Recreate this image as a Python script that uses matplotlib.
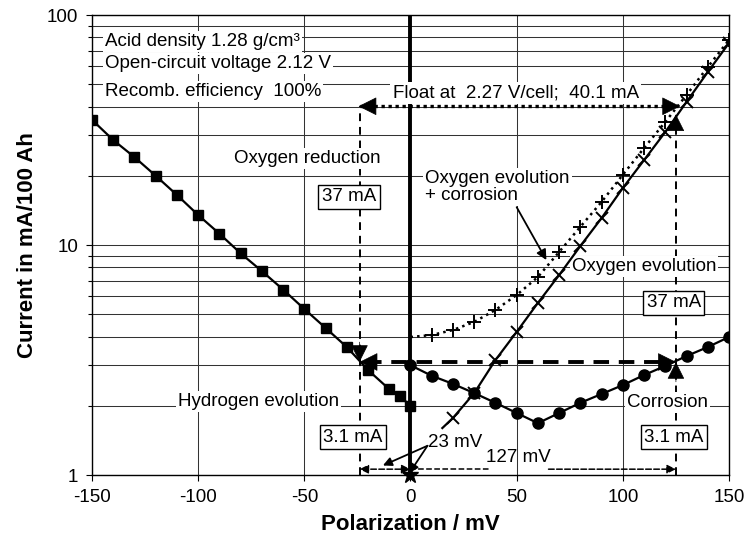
import numpy as np
import matplotlib
matplotlib.use('Agg')
import matplotlib.pyplot as plt
from matplotlib.ticker import FixedLocator, FixedFormatter, NullFormatter

plt.rcParams['font.family'] = ['Liberation Sans', 'DejaVu Sans']
plt.rcParams['font.size'] = 13.5
plt.rcParams['axes.unicode_minus'] = False

# ---- data ----
neg_x = [-150, -140, -130, -120, -110, -100, -90, -80, -70, -60, -50, -40, -30, -20, -10, -5, 0]
neg_i = [35, 28.6, 24.1, 20, 16.5, 13.5, 11.2, 9.2, 7.7, 6.4, 5.27, 4.36, 3.6, 2.86, 2.36, 2.2, 2.0]

corr_x = [0, 10, 20, 30, 40, 50, 60, 70, 80, 90, 100, 110, 120, 130, 140, 150]
corr_i = [3.0, 2.7, 2.49, 2.27, 2.06, 1.86, 1.68, 1.86, 2.06, 2.25, 2.46, 2.72, 2.98, 3.29, 3.6, 3.98]

oxy_x = [15, 20, 30, 40, 50, 60, 70, 80, 90, 100, 110, 120, 130, 140, 150]
oxy_i = [1.6, 1.77, 2.27, 3.16, 4.19, 5.6, 7.4, 9.9, 13.1, 17.7, 23.4, 31, 41.9, 56.5, 75.5]

oxc_x = [0, 10, 20, 30, 40, 50, 60, 70, 80, 90, 100, 110, 120, 130, 140, 150]
oxc_i = [3.98, 4.06, 4.27, 4.63, 5.22, 6.06, 7.26, 9.33, 12, 15.4, 20.2, 26.4, 34.3, 44.9, 59.4, 77.9]

x_ticks = [-150, -100, -50, 0, 50, 100, 150]
y_ticks = [1, 10, 100]
y_tick_labels = ['1', '10', '100']

float_i = 40.1
cross_i = 3.1
top_i = 37
left_mv = -24
right_mv = 125

# ---- figure ----
fig = plt.figure(figsize=(7.47, 5.45), dpi=100)
ax = fig.add_axes([92 / 747, 1 - 475 / 545, 637 / 747, 460 / 545])
ax.set_yscale('log')
ax.set_xlim(-150, 150)
ax.set_ylim(1, 100)

ax.set_xticks(x_ticks)
ax.yaxis.set_major_locator(FixedLocator(y_ticks))
ax.yaxis.set_major_formatter(FixedFormatter(y_tick_labels))
ax.yaxis.set_minor_formatter(NullFormatter())
ax.tick_params(which='both', direction='out', length=4, width=0.8, labelsize=13.5, pad=6)
ax.tick_params(which='minor', length=3)
ax.set_axisbelow(True)
ax.grid(True, which='both', color='0.2', lw=0.75)
for s in ax.spines.values():
    s.set_linewidth(1.0)

ax.set_xlabel('Polarization / mV', fontsize=16, fontweight='bold', labelpad=6)
ax.set_ylabel('Current in mA/100 Ah', fontsize=16, fontweight='bold', labelpad=6)

# thick zero line
ax.plot([0, 0], [1, 100], color='k', lw=2.8, zorder=1.5)

# ---- curves ----
ax.plot(neg_x, neg_i, color='k', lw=1.6, marker='s', ms=6.5, zorder=4)
ax.plot(corr_x, corr_i, color='k', lw=1.6, marker='o', ms=8, zorder=4)
ax.plot(oxy_x, oxy_i, color='k', lw=1.6, marker='x', ms=8.5, mew=1.4,
        markevery=list(range(1, len(oxy_x))), zorder=4)
ax.plot(oxc_x, oxc_i, color='k', lw=1.8, ls=':', marker='+', ms=10, mew=1.4,
        markevery=list(range(1, len(oxc_x))), zorder=4)

# star at origin
ax.plot([0], [1.0], marker='*', ms=12, color='k', zorder=5, clip_on=False)


def head(x0, y0, x1, y1, size=20):
    ax.annotate('', xy=(x1, y1), xytext=(x0, y0), zorder=4,
                arrowprops=dict(arrowstyle='-|>', color='k', lw=0.5,
                                mutation_scale=size, shrinkA=0, shrinkB=0))


# float dotted arrow
ax.plot([left_mv, right_mv + 1], [float_i, float_i], color='k', lw=2.4, ls=(0, (1, 1.1)), zorder=2.5)
head(left_mv + 4, float_i, left_mv - 0.5, float_i, 30)
head(right_mv - 3, float_i, right_mv + 2, float_i, 30)

# vertical dashed lines
ax.plot([left_mv, left_mv], [1.0, float_i * 0.95], color='k', lw=1.4, ls=(0, (4, 3)), zorder=1.8)
ax.plot([right_mv, right_mv], [1.0, top_i * 0.95], color='k', lw=1.4, ls=(0, (4, 3)), zorder=1.8)
head(right_mv, top_i * 0.82, right_mv, top_i, 28)
head(right_mv, cross_i * 0.82, right_mv, cross_i, 28)
head(left_mv, cross_i * 1.22, left_mv, cross_i, 28)

# thick dashed horizontal at 3.1 mA
ax.plot([left_mv + 3, right_mv - 3], [cross_i, cross_i], color='k', lw=2.8, ls=(0, (4, 2.5)), zorder=2.5)
head(left_mv + 7, cross_i, left_mv, cross_i, 30)
head(right_mv - 7, cross_i, right_mv, cross_i, 30)

# bottom dimension arrows
y_dim = 1.06
ax.annotate('', xy=(left_mv, y_dim), xytext=(0, y_dim), zorder=4,
            arrowprops=dict(arrowstyle='<|-|>', color='k', lw=1.1, ls='--',
                            mutation_scale=13, shrinkA=0, shrinkB=0))
ax.plot([0, 37], [y_dim, y_dim], color='k', lw=1.1, ls='--', zorder=2.5)
ax.annotate('', xy=(right_mv, y_dim), xytext=(65, y_dim), zorder=4,
            arrowprops=dict(arrowstyle='-|>', color='k', lw=1.1, ls='--',
                            mutation_scale=13, shrinkA=0, shrinkB=0))
ax.text(51, 1.19, '127 mV', ha='center', va='center', zorder=3)

# 23 mV
ax.text(21, 1.39, '23 mV', ha='center', va='center', zorder=3)
for tip in [(-13, 1.10), (-0.5, 1.02)]:
    ax.annotate('', xy=tip, xytext=(8, 1.34), zorder=4,
                arrowprops=dict(arrowstyle='-|>', color='k', lw=1.3,
                                mutation_scale=13, shrinkA=0, shrinkB=0))

# ---- text labels ----
wb = dict(facecolor='white', edgecolor='none', pad=1.5)
kb = dict(facecolor='white', edgecolor='k', lw=1.0, pad=2.5)

ax.text(-144, 77, 'Acid density 1.28 g/cm³', ha='left', va='center', bbox=wb, zorder=3)
ax.text(-144, 61.6, 'Open-circuit voltage 2.12 V', ha='left', va='center', bbox=wb, zorder=3)
ax.text(-144, 46.3, 'Recomb. efficiency  100%', ha='left', va='center', bbox=wb, zorder=3)
ax.text(49.5, 45.8, 'Float at  2.27 V/cell;  40.1 mA', ha='center', va='center', bbox=wb, zorder=3)

ax.text(-48.6, 23.7, 'Oxygen reduction', ha='center', va='center', bbox=wb, zorder=3)
ax.text(-71.7, 2.08, 'Hydrogen evolution', ha='center', va='center', bbox=wb, zorder=3)
ax.text(121, 2.06, 'Corrosion', ha='center', va='center', bbox=wb, zorder=3)
ax.text(110, 8.03, 'Oxygen evolution', ha='center', va='center', bbox=wb, zorder=3)
ax.text(7, 17.9, 'Oxygen evolution\n+ corrosion', ha='left', va='center',
        linespacing=1.0, bbox=wb, zorder=3)
ax.annotate('', xy=(64, 8.6), xytext=(50, 14.6), zorder=4,
            arrowprops=dict(arrowstyle='-|>', color='k', lw=1.3,
                            mutation_scale=15, shrinkA=0, shrinkB=0))

ax.text(-29, 16.2, '37 mA', ha='center', va='center', bbox=kb, zorder=3)
ax.text(124, 5.6, '37 mA', ha='center', va='center', bbox=kb, zorder=3)
ax.text(-27, 1.46, '3.1 mA', ha='center', va='center', bbox=kb, zorder=3)
ax.text(124, 1.46, '3.1 mA', ha='center', va='center', bbox=kb, zorder=3)

plt.savefig('out.png', dpi=100)
